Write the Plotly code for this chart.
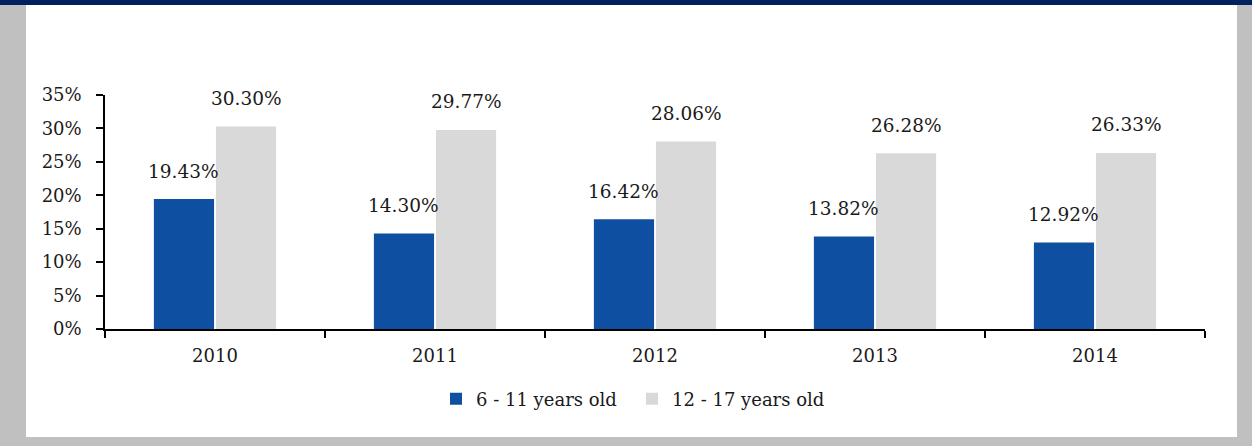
import plotly.graph_objects as go

# Share of children by age group, per year
years = ["2010", "2011", "2012", "2013", "2014"]
age_6_11 = [19.43, 14.30, 16.42, 13.82, 12.92]
age_12_17 = [30.30, 29.77, 28.06, 26.28, 26.33]
series_names = ["6 - 11 years old", "12 - 17 years old"]
y_ticks = [0, 5, 10, 15, 20, 25, 30, 35]
y_tick_labels = [f"{v}%" for v in y_ticks]

BLUE = "#0E4FA2"
LIGHT = "#D9D9D9"
FONT = "DejaVu Serif"
TEXT = "#1A1A1A"

W, H = 1252, 446
ML, MR, MT, MB = 105, 47, 95, 117
plot_w = W - ML - MR
plot_h = H - MT - MB

fig = go.Figure()
fig.add_trace(go.Bar(x=years, y=age_6_11, name=series_names[0],
                     marker=dict(color=BLUE, line_width=0)))
fig.add_trace(go.Bar(x=years, y=age_12_17, name=series_names[1],
                     marker=dict(color=LIGHT, line_width=0)))

bargap = 0.436
groupgap = 0.03
slot = plot_w / len(years) * (1 - bargap) / 2  # pixel width of one bar slot

# value labels floating above each bar (x given as category index)
for i, yr in enumerate(years):
    for j, vals in enumerate([age_6_11, age_12_17]):
        fig.add_annotation(
            x=i, y=vals[i], xref="x", yref="y",
            text=f"{vals[i]:.2f}%", showarrow=False,
            xshift=(j - 0.5) * slot, yshift=28, yanchor="middle",
            font=dict(family=FONT, size=18.5, color=TEXT),
        )

# frame: grey border, white card, navy band on top
def px_x(p):
    return (p - ML) / plot_w

def px_y(p):
    return (H - MB - p) / plot_h

fig.add_shape(type="rect", xref="paper", yref="paper", layer="below",
              x0=px_x(26), x1=px_x(1237), y0=px_y(437), y1=px_y(5),
              fillcolor="white", line_width=0)
fig.add_shape(type="rect", xref="paper", yref="paper", layer="below",
              x0=px_x(0), x1=px_x(W), y0=px_y(5), y1=px_y(0),
              fillcolor="#002060", line_width=0)

fig.update_layout(
    width=W, height=H,
    margin=dict(l=ML, r=MR, t=MT, b=MB, pad=0),
    paper_bgcolor="#C0C0C0",
    plot_bgcolor="white",
    barmode="group", bargap=bargap, bargroupgap=groupgap,
    font=dict(family=FONT, size=18, color=TEXT),
    showlegend=True,
    legend=dict(orientation="h", x=px_x(436), xanchor="left", y=-0.22, yanchor="top",
                font=dict(family=FONT, size=18, color=TEXT),
                bgcolor="rgba(0,0,0,0)", itemsizing="constant",
                itemwidth=30, entrywidth=151, entrywidthmode="pixels"),
)
fig.update_xaxes(type="category", range=[-0.5, len(years) - 0.5],
                 showline=True, linecolor="black", linewidth=1.5,
                 ticks="outside", tickson="boundaries", ticklen=7, tickwidth=1.5,
                 tickcolor="black", showgrid=False, zeroline=False, tickangle=0,
                 ticklabelstandoff=10,
                 tickfont=dict(family=FONT, size=18, color=TEXT))
fig.update_yaxes(range=[0, 35], tickvals=y_ticks, ticktext=y_tick_labels,
                 showline=True, linecolor="black", linewidth=1.5,
                 ticks="outside", ticklen=7, tickwidth=1.5, tickcolor="black",
                 showgrid=False, zeroline=False, ticklabelstandoff=11,
                 tickfont=dict(family=FONT, size=18, color=TEXT))

fig.write_html("out.html")
